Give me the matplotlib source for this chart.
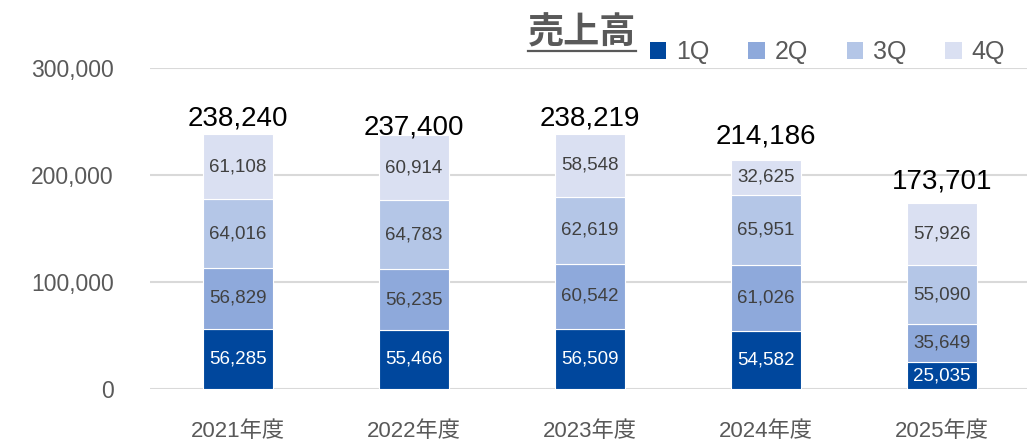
import matplotlib
matplotlib.use("Agg")
import matplotlib.pyplot as plt
from matplotlib.patches import Patch
from matplotlib.lines import Line2D
import numpy as np

plt.rcParams['font.family'] = ['Liberation Sans', 'Noto Sans CJK JP', 'DejaVu Sans']

categories = ["2021年度", "2022年度", "2023年度", "2024年度", "2025年度"]
q1 = [56285, 55466, 56509, 54582, 25035]
q2 = [56829, 56235, 60542, 61026, 35649]
q3 = [64016, 64783, 62619, 65951, 55090]
q4 = [61108, 60914, 58548, 32625, 57926]
totals = [238240, 237400, 238219, 214186, 173701]
series_names = ["1Q", "2Q", "3Q", "4Q"]
yticks = [0, 100000, 200000, 300000]
title = "売上高"

colors = ["#00479D", "#8EA9DB", "#B4C6E7", "#DAE0F2"]
label_colors = ["white", "#404040", "#404040", "#404040"]

W, H = 1027, 445
fig = plt.figure(figsize=(W / 100, H / 100), dpi=100)
ax = fig.add_axes([150 / W, 56 / H, 880 / W, 321 / H])

x = np.arange(len(categories))
series = [q1, q2, q3, q4]
bottom = np.zeros(len(categories))
for vals, c, lc in zip(series, colors, label_colors):
    vals = np.array(vals, dtype=float)
    ax.bar(x, vals, 0.4, bottom=bottom, color=c, edgecolor="white",
           linewidth=0.8, zorder=3)
    for xi, b, v in zip(x, bottom, vals):
        ax.text(xi, b + v / 2, f"{int(v):,}", ha="center", va="center",
                color=lc, fontsize=13.5, zorder=4)
    bottom += vals

label_offsets = [0.05, 0.022, 0.05, 0.072, 0.068]
for xi, t, off in zip(x, totals, label_offsets):
    ax.text(xi, t + off * 300000, f"{t:,}", ha="center", va="center",
            color="black", fontsize=20, zorder=4, clip_on=False)

ax.set_xlim(-0.5, len(categories) - 0.5)
ax.set_ylim(0, 300000)
ax.set_yticks(yticks)
ax.set_yticklabels([f"{v:,}" for v in yticks], fontsize=16.5, color="#595959")
ax.set_xticks(x)
ax.set_xticklabels(categories, fontsize=16, color="#595959")
ax.tick_params(axis="y", length=0, pad=26)
ax.tick_params(axis="x", length=0, pad=23)
for s in ax.spines.values():
    s.set_visible(False)
ax.grid(axis="y", color="#D9D9D9", linewidth=1.5, zorder=0)
ax.set_axisbelow(True)

# title with underline
t = fig.text(582 / W, 1 - 34 / H, title, ha="center", va="center",
             fontsize=26, fontweight="bold", color="#595959")
fig.canvas.draw()
bb = t.get_window_extent(renderer=fig.canvas.get_renderer())
fig.add_artist(Line2D([bb.x0 / W, bb.x1 / W], [(H - 51) / H, (H - 51) / H],
                      color="#595959", linewidth=1.6, transform=fig.transFigure))

handles = [Patch(facecolor=c, edgecolor="none") for c in colors]
leg = fig.legend(handles, series_names, loc="center left",
                 bbox_to_anchor=(640 / W, 1 - 52 / H), ncol=4, frameon=False,
                 fontsize=18, handlelength=0.65, handleheight=0.65,
                 handletextpad=0.4, columnspacing=1.55, borderaxespad=0)
for txt in leg.get_texts():
    txt.set_color("#595959")

fig.savefig("out.png", dpi=100)
